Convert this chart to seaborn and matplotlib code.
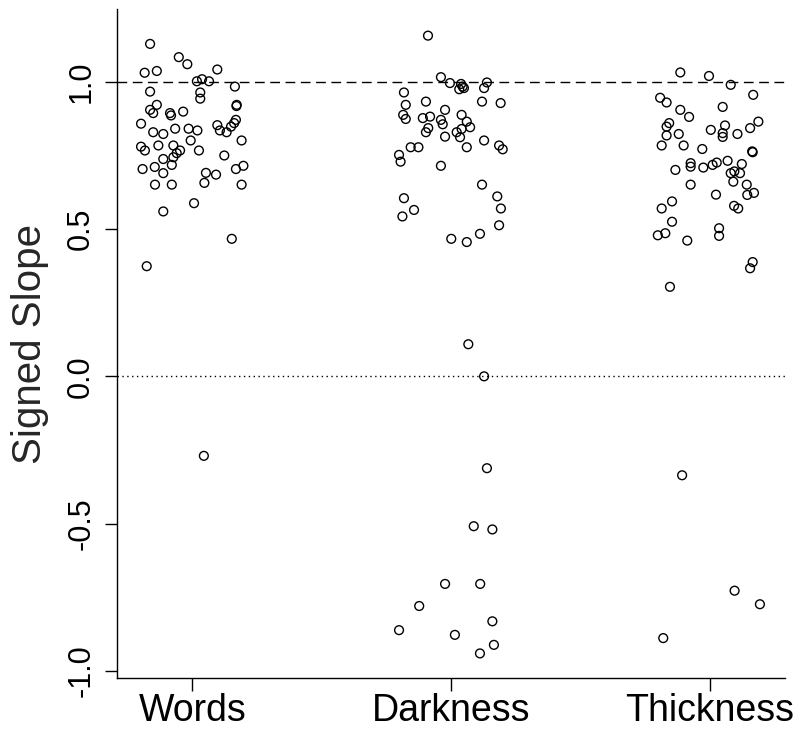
import matplotlib
matplotlib.use("Agg")
import matplotlib.pyplot as plt
import seaborn as sns
import pandas as pd
import numpy as np

categories = ["Words", "Darkness", "Thickness"]

words_jitter = [-0.164, -0.053, -0.020, -0.185, -0.138, 0.096, 0.017, 0.037, 0.064, 0.164,
                -0.164, 0.030, 0.030, -0.138, -0.164, -0.152, -0.087, -0.083, -0.036, 0.171,
                0.170, -0.199, -0.152, -0.113, -0.067, -0.015, 0.019, 0.096, 0.106, 0.132,
                0.149, 0.161, 0.168, -0.199, -0.184, -0.132, -0.074, -0.048, -0.007, 0.025,
                0.190, -0.113, -0.074, -0.061, -0.080, -0.193, -0.146, -0.113, 0.123, 0.052,
                0.091, 0.168, 0.197, -0.145, -0.080, 0.046, 0.190, 0.006, -0.113, 0.152,
                -0.177, 0.044]
words_slope = [1.129, 1.084, 1.060, 1.031, 1.037, 1.042, 1.002, 1.009, 1.002, 0.984,
               0.967, 0.964, 0.943, 0.922, 0.905, 0.894, 0.894, 0.886, 0.899, 0.922,
               0.918, 0.858, 0.829, 0.823, 0.841, 0.841, 0.835, 0.853, 0.835, 0.829,
               0.848, 0.860, 0.871, 0.780, 0.767, 0.784, 0.784, 0.767, 0.801, 0.767,
               0.801, 0.738, 0.744, 0.758, 0.718, 0.704, 0.711, 0.690, 0.750, 0.691,
               0.685, 0.704, 0.715, 0.651, 0.651, 0.657, 0.651, 0.588, 0.560, 0.467,
               0.374, -0.270]

darkness_jitter = [-0.089, -0.039, -0.004, 0.039, 0.045, 0.032, 0.050, 0.139, 0.128, -0.182,
                   -0.097, 0.120, 0.192, -0.175, -0.023, -0.185, -0.175, -0.109, -0.081, -0.039,
                   -0.032, 0.041, 0.061, 0.074, 0.041, 0.022, -0.088, -0.097, -0.023, 0.035,
                   0.128, -0.156, -0.126, 0.061, 0.186, 0.200, -0.201, -0.195, -0.039, 0.120,
                   0.179, -0.182, 0.193, -0.143, -0.188, 0.186, 0.112, 0.001, 0.061, 0.067,
                   0.128, 0.139, 0.088, 0.160, -0.023, 0.113, -0.123, -0.201, 0.160, 0.015,
                   0.166, 0.112]
darkness_slope = [1.157, 1.016, 0.996, 0.993, 0.984, 0.975, 0.979, 0.998, 0.979, 0.964,
                  0.933, 0.933, 0.928, 0.922, 0.905, 0.888, 0.874, 0.877, 0.882, 0.871,
                  0.856, 0.888, 0.865, 0.846, 0.840, 0.829, 0.843, 0.829, 0.814, 0.812,
                  0.801, 0.778, 0.778, 0.778, 0.784, 0.771, 0.752, 0.729, 0.715, 0.651,
                  0.611, 0.605, 0.570, 0.565, 0.543, 0.513, 0.484, 0.467, 0.456, 0.109,
                  0.000, -0.312, -0.509, -0.520, -0.705, -0.705, -0.780, -0.862, -0.832, -0.878,
                  -0.912, -0.941]

thickness_jitter = [-0.113, -0.002, 0.082, 0.169, -0.191, -0.166, 0.051, -0.113, -0.079, -0.156,
                    -0.166, 0.060, 0.189, 0.157, 0.005, 0.051, 0.051, 0.108, -0.166, -0.119,
                    -0.185, -0.100, -0.028, 0.167, 0.165, -0.132, -0.073, -0.073, -0.024, 0.012,
                    0.028, 0.070, 0.125, 0.082, 0.096, 0.118, 0.092, -0.073, 0.144, 0.025,
                    0.146, 0.172, -0.145, -0.185, 0.095, 0.111, -0.145, 0.037, 0.037, -0.200,
                    -0.171, -0.086, 0.167, 0.157, -0.153, -0.106, 0.097, 0.195, -0.179]
thickness_slope = [1.032, 1.020, 0.990, 0.956, 0.946, 0.930, 0.915, 0.905, 0.881, 0.860,
                   0.848, 0.852, 0.865, 0.843, 0.837, 0.826, 0.813, 0.823, 0.818, 0.823,
                   0.784, 0.784, 0.772, 0.761, 0.764, 0.701, 0.724, 0.712, 0.709, 0.718,
                   0.726, 0.732, 0.721, 0.690, 0.696, 0.690, 0.661, 0.651, 0.651, 0.617,
                   0.616, 0.623, 0.594, 0.570, 0.579, 0.570, 0.525, 0.503, 0.477, 0.479,
                   0.486, 0.461, 0.388, 0.367, 0.304, -0.336, -0.728, -0.774, -0.889]

y_ticks = [-1.0, -0.5, 0.0, 0.5, 1.0]
y_tick_labels = ["-1.0", "-0.5", "0.0", "0.5", "1.0"]

rows = []
for i, (cat, jit, vals) in enumerate(zip(categories,
                                         [words_jitter, darkness_jitter, thickness_jitter],
                                         [words_slope, darkness_slope, thickness_slope])):
    for j, v in zip(jit, vals):
        rows.append({"condition": cat, "pos": i + j, "slope": v})
df = pd.DataFrame(rows)

sns.set_style("ticks")
plt.rcParams["font.family"] = ["Liberation Sans", "DejaVu Sans"]

fig = plt.figure(figsize=(8.01, 7.29), dpi=100)
ax = fig.add_axes([117 / 801, 51 / 729, 668 / 801, 669 / 729])

sns.scatterplot(data=df, x="pos", y="slope", ax=ax, marker="o", s=40,
                facecolors="none", edgecolor="black", linewidth=1.0, legend=False)

ax.axhline(1.0, color="black", linewidth=1.0, linestyle=(0, (7, 4)), zorder=0)
ax.axhline(0.0, color="black", linewidth=1.0, linestyle=(0, (1, 2.5)), zorder=0)

ax.set_xlim(-0.292, 2.292)
ax.set_ylim(-1.0245, 1.2475)
ax.set_xticks(range(len(categories)))
ax.set_xticklabels(categories, fontsize=27)
ax.set_yticks(y_ticks)
ax.set_yticklabels(y_tick_labels, fontsize=22, rotation=90, va="center")
ax.set_xlabel("")
ax.set_ylabel("Signed Slope", fontsize=29, labelpad=12)

for side in ["top", "right"]:
    ax.spines[side].set_visible(False)
for side in ["left", "bottom"]:
    ax.spines[side].set_color("black")
    ax.spines[side].set_linewidth(1.0)
ax.tick_params(axis="both", direction="out", length=9, width=1.0, color="black", colors="black")
ax.tick_params(axis="y", pad=6)
ax.tick_params(axis="x", pad=2)

fig.savefig("out.png", dpi=100, facecolor="white")
